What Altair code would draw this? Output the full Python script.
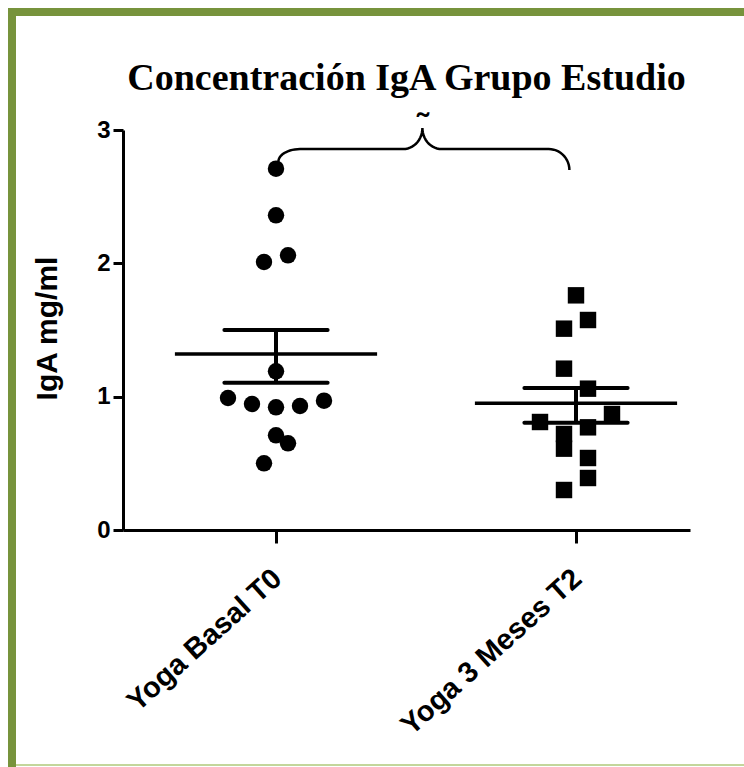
import altair as alt
import numpy as np
import pandas as pd

# ---------------- data ----------------
groups = ["Yoga Basal T0", "Yoga 3 Meses T2"]

basal_values = [2.71, 2.36, 2.01, 2.06, 1.19, 0.99, 0.945, 0.92, 0.93, 0.97, 0.71, 0.65, 0.50]
basal_jitter = [0.0, 0.0, -0.04, 0.04, 0.0, -0.16, -0.08, 0.0, 0.08, 0.16, 0.0, 0.04, -0.04]

meses_values = [1.76, 1.575, 1.51, 1.21, 1.06, 0.87, 0.81, 0.77, 0.72, 0.61, 0.54, 0.39, 0.30]
meses_jitter = [0.0, 0.04, -0.04, -0.04, 0.04, 0.12, -0.12, 0.04, -0.04, -0.04, 0.04, 0.04, -0.04]

group_means = [1.32, 0.95]
sem_upper = [1.50, 1.065]
sem_lower = [1.105, 0.805]

y_ticks = [0, 1, 2, 3]
title_text = "Concentración IgA Grupo Estudio"
y_title = "IgA mg/ml"
significance_mark = "˜"

# comparison bracket key points (x in group units, y in mg/ml)
bracket_x = [1.008, 1.08, 1.424, 1.488, 1.552, 1.909, 1.978]
bracket_y = [2.762, 2.857, 2.857, 3.015, 2.857, 2.857, 2.70]

# ---------------- tables ----------------
rows = []
for gi, (vals, jit) in enumerate([(basal_values, basal_jitter), (meses_values, meses_jitter)]):
    for v, j in zip(vals, jit):
        rows.append({"group": groups[gi], "pos": gi + 1 + j, "value": v})
points = pd.DataFrame(rows)

MEAN_HALF = 0.337
CAP_HALF = 0.172
summary = pd.DataFrame({
    "group": groups,
    "idx": [1, 2],
    "mean": group_means,
    "upper": sem_upper,
    "lower": sem_lower,
})
summary["m0"] = summary["idx"] - MEAN_HALF
summary["m1"] = summary["idx"] + MEAN_HALF
summary["c0"] = summary["idx"] - CAP_HALF
summary["c1"] = summary["idx"] + CAP_HALF

# bracket path (quarter-ellipse corners between key points)
t = np.linspace(0, np.pi / 2, 14)
bx, by = bracket_x, bracket_y
segs = [
    (bx[1] - (bx[1] - bx[0]) * np.cos(t), by[0] + (by[1] - by[0]) * np.sin(t)),
    (np.array([bx[1], bx[2]]), np.array([by[1], by[2]])),
    (bx[2] + (bx[3] - bx[2]) * np.sin(t), by[3] - (by[3] - by[2]) * np.cos(t)),
    (bx[3] + (bx[4] - bx[3]) * (1 - np.cos(t)), by[3] - (by[3] - by[4]) * np.sin(t)),
    (np.array([bx[4], bx[5]]), np.array([by[4], by[5]])),
    (bx[5] + (bx[6] - bx[5]) * np.sin(t), by[6] + (by[5] - by[6]) * np.cos(t)),
]
px = np.concatenate([s[0] for s in segs])
py = np.concatenate([s[1] for s in segs])
bracket = pd.DataFrame({"x": px, "y": py, "order": np.arange(len(px))})

mark_df = pd.DataFrame({"x": [bx[3]], "y": [3.03], "label": [significance_mark]})

# ---------------- scales / axes ----------------
x_scale = alt.Scale(domain=[0.49, 2.38], nice=False, zero=False)
y_scale = alt.Scale(domain=[0, 3], nice=False, zero=False)

label_expr = "datum.value == 1 ? '%s' : (datum.value == 2 ? '%s' : '')" % (groups[0], groups[1])

x_axis = alt.Axis(
    values=[1, 2], labelExpr=label_expr, title=None, grid=False,
    labelAngle=-42, labelAlign="right", labelBaseline="middle",
    labelFont="Liberation Sans", labelFontSize=29, labelFontWeight="bold", labelColor="black",
    labelPadding=31, labelOffset=1, labelOverlap=False, labelFlush=False, labelBound=False,
    labelLimit=0,
    tickSize=13, tickWidth=3, tickColor="black", domainWidth=3, domainColor="black",
)
y_axis = alt.Axis(
    values=y_ticks, format="d", title=y_title, grid=False,
    labelFont="Liberation Sans", labelFontSize=24, labelFontWeight="bold", labelColor="black",
    labelPadding=3, labelFlush=False,
    tickSize=10, tickWidth=3, tickColor="black", domainWidth=3, domainColor="black",
    titleFont="Liberation Sans", titleFontSize=30, titleFontWeight="bold", titleColor="black",
    titleX=-76, titleY=198, titleAngle=270, titleAlign="center", titleBaseline="middle",
)


def X(field):
    return alt.X(field, scale=x_scale, axis=x_axis)


def Y(field):
    return alt.Y(field, scale=y_scale, axis=y_axis)


# ---------------- layers ----------------
one = pd.DataFrame({"a": [0]})
frame_color = "#77933C"
frame_left = alt.Chart(one).mark_rect(color=frame_color).encode(
    x=alt.value(-115), x2=alt.value(-107), y=alt.value(-122), y2=alt.value(637))
frame_top = alt.Chart(one).mark_rect(color=frame_color).encode(
    x=alt.value(-115), x2=alt.value(621), y=alt.value(-122), y2=alt.value(-114))
frame_bottom = alt.Chart(one).mark_rect(color="#C3D69B").encode(
    x=alt.value(-107), x2=alt.value(621), y=alt.value(634), y2=alt.value(636))

pts = alt.Chart(points).mark_point(filled=True, opacity=1, size=270, color="black").encode(
    x=X("pos:Q"),
    y=Y("value:Q"),
    shape=alt.Shape("group:N", scale=alt.Scale(domain=groups, range=["circle", "square"]), legend=None),
)

mean_rule = alt.Chart(summary).mark_rule(color="black", strokeWidth=3.5).encode(
    x=X("m0:Q"), x2="m1:Q", y=Y("mean:Q"),
)
cap_up = alt.Chart(summary).mark_rule(color="black", strokeWidth=4, strokeCap="round").encode(
    x=X("c0:Q"), x2="c1:Q", y=Y("upper:Q"),
)
cap_lo = alt.Chart(summary).mark_rule(color="black", strokeWidth=4, strokeCap="round").encode(
    x=X("c0:Q"), x2="c1:Q", y=Y("lower:Q"),
)
vert = alt.Chart(summary).mark_rule(color="black", strokeWidth=4).encode(
    x=X("idx:Q"), y=Y("lower:Q"), y2="upper:Q",
)

brace = alt.Chart(bracket).mark_line(color="black", strokeWidth=2.5).encode(
    x=X("x:Q"), y=Y("y:Q"), order="order:Q",
)
sig = alt.Chart(mark_df).mark_text(fontSize=34, fontWeight="bold", font="Liberation Sans",
                                   color="black", baseline="middle").encode(
    x=X("x:Q"), y=Y("y:Q"), text="label:N",
)

chart = alt.layer(
    frame_left, frame_top, frame_bottom,
    pts, mean_rule, cap_up, cap_lo, vert, brace, sig,
).properties(
    width=567, height=400,
    autosize="none",
    padding={"left": 123, "top": 130, "right": 54, "bottom": 237},
    background="white",
    title=alt.TitleParams(
        text=title_text, font="Liberation Serif", fontSize=38, fontWeight="bold",
        color="black", anchor="middle", frame="group", baseline="alphabetic",
        offset=0, dy=120,
    ),
).configure_view(stroke=None)

chart.save("out.html", embed_options={"renderer": "svg", "actions": False})
